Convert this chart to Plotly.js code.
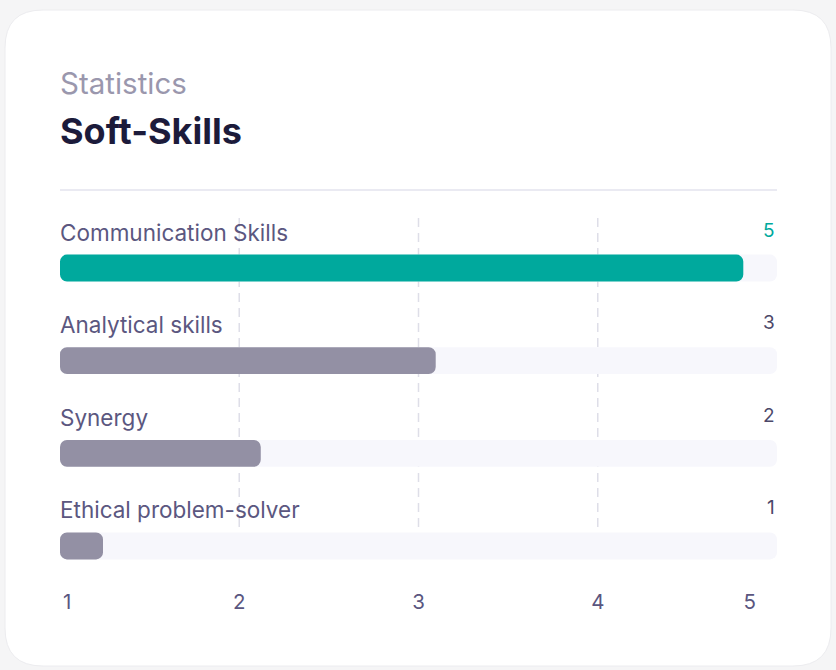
<!DOCTYPE html>
<html>
<head>
<meta charset="utf-8">
<script src="https://cdn.plot.ly/plotly-3.0.1.min.js"></script>
<style>
  html, body { margin: 0; padding: 0; background: #f5f5f6; }
  #chart { width: 836px; height: 670px; }
</style>
</head>
<body>
<div id="chart"></div>
<script>
// ---- data ----
const skills = ["Communication Skills", "Analytical skills", "Synergy", "Ethical problem-solver"];
const scores = [5, 3, 2, 1];
const barPercent = [95.3, 52.4, 28.0, 6.0];   // bar fill length, % of track
const trackMax = 100;
const gridValues = [25, 50, 75];
const tickValues = [1, 25, 50, 75, 96.2];
const tickLabels = ["1", "2", "3", "4", "5"];
const highlightIndex = 0;

// ---- layout helpers ----
const W = 836, H = 670;
const px = x => x / W;
const py = y => 1 - y / H;

const TEAL = "#00a99d", GREY = "#9390a4", TRACK = "#f7f7fc";
const barColors = skills.map((s, i) => i === highlightIndex ? TEAL : GREY);
const barWidth = 0.29;
const radius = 7;

function barTrace(vals, colors) {
  return {
    type: "bar", orientation: "h", y: skills, x: vals, base: vals.map(() => 0), width: barWidth,
    marker: { color: colors, cornerradius: radius, line: { width: 0 } },
    hoverinfo: "skip", showlegend: false
  };
}

const traces = [
  barTrace(skills.map(() => trackMax), skills.map(() => TRACK)),
  barTrace(barPercent, barColors)
];

// card path (rounded rect) in paper coords
function roundedRect(x0, y0, x1, y1, r) {
  const rx = r / W, ry = r / H;
  const L = px(x0), R = px(x1), T = py(y0), B = py(y1);
  return `M${L + rx},${T} L${R - rx},${T} Q${R},${T} ${R},${T - ry} ` +
         `L${R},${B + ry} Q${R},${B} ${R - rx},${B} ` +
         `L${L + rx},${B} Q${L},${B} ${L},${B + ry} ` +
         `L${L},${T - ry} Q${L},${T} ${L + rx},${T} Z`;
}

const shapes = [
  { type: "path", xref: "paper", yref: "paper", path: roundedRect(5, 10, 831, 666, 38),
    fillcolor: "#ffffff", line: { color: "#ececef", width: 1 }, layer: "below" },
  { type: "line", xref: "paper", yref: "paper", x0: px(60), x1: px(777), y0: py(190), y1: py(190),
    line: { color: "#e3e3ee", width: 1.5 }, layer: "below" },
  ...gridValues.map(g => ({
    type: "line", xref: "x", yref: "paper", x0: g, x1: g, y0: py(527), y1: py(215),
    line: { color: "#dedee8", width: 1.5, dash: "9px,6px" }, layer: "below"
  }))
];

const annotations = [
  { xref: "paper", yref: "paper", x: px(58), y: py(83), xanchor: "left", yanchor: "middle",
    text: "Statistics", showarrow: false, font: { family: "Inter", size: 29.5, color: "#9a97ad" } },
  { xref: "paper", yref: "paper", x: px(58), y: py(131), xanchor: "left", yanchor: "middle",
    text: "<b>Soft-Skills</b>", showarrow: false, font: { family: "Inter", size: 36, color: "#1c1b3b" } },
  ...skills.map((s, i) => ({
    xref: "x", yref: "y", x: 0, y: s, xanchor: "left", yanchor: "middle", yshift: 36, xshift: -2,
    text: s, showarrow: false, font: { family: "Inter", size: 22.5, color: "#5b5780" }
  })),
  ...skills.map((s, i) => ({
    xref: "x", yref: "y", x: trackMax, y: s, xanchor: "right", yanchor: "middle", yshift: 38,
    text: String(scores[i]), showarrow: false,
    font: { family: "Inter", size: 19, color: i === highlightIndex ? TEAL : "#4c4869" }
  }))
];

const layout = {
  width: W, height: H,
  margin: { l: 0, r: 0, t: 0, b: 0, pad: 0 },
  paper_bgcolor: "#f5f5f6",
  plot_bgcolor: "rgba(0,0,0,0)",
  barmode: "overlay",
  showlegend: false,
  xaxis: {
    domain: [px(60), px(777)], range: [0, trackMax], fixedrange: true,
    showgrid: false, zeroline: false, showline: false, ticks: "",
    tickmode: "array", tickvals: tickValues, ticktext: tickLabels,
    ticklabelstandoff: -5,
    tickfont: { family: "Inter", size: 20.5, color: "#5a5680" }
  },
  yaxis: {
    type: "category", categoryarray: skills, range: [3.5, -0.5],
    domain: [1 - 592.3 / H, 1 - 221.7 / H], fixedrange: true,
    showgrid: false, zeroline: false, showline: false, showticklabels: false, ticks: ""
  },
  shapes: shapes,
  annotations: annotations,
  font: { family: "Inter" }
};

Plotly.newPlot("chart", traces, layout, { displayModeBar: false, staticPlot: true });
</script>
</body>
</html>
